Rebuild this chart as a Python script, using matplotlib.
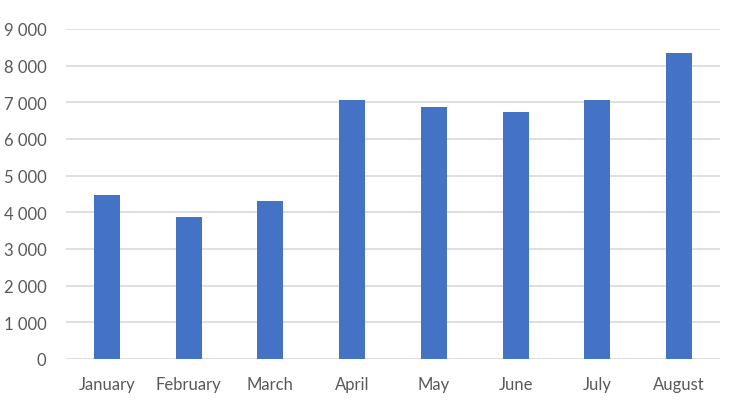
import matplotlib
matplotlib.use("Agg")
import matplotlib.pyplot as plt
from matplotlib.ticker import FuncFormatter, MultipleLocator

months = ["January", "February", "March", "April", "May", "June", "July", "August"]
values = [4470, 3870, 4310, 7060, 6870, 6740, 7060, 8350]

plt.rcParams['font.family'] = ['Lato', 'DejaVu Sans']

fig = plt.figure(figsize=(7.40, 4.02), dpi=100)
ax = fig.add_axes([66/740, 1 - 360/402, (720-66)/740, (360-30)/402])

x = range(len(months))
ax.bar(x, values, width=0.32, color="#4472C4", zorder=3)
ax.set_xlim(-0.5, len(months) - 0.5)
ax.set_ylim(0, 9000)
ax.yaxis.set_major_locator(MultipleLocator(1000))
ax.yaxis.set_major_formatter(FuncFormatter(lambda v, p: f"{int(v):,}".replace(",", " ")))
ax.set_xticks(list(x))
ax.set_xticklabels(months)
ax.grid(axis="y", color="#D9D9D9", linewidth=1.2, zorder=0)
for s in ax.spines.values():
    s.set_visible(False)
ax.tick_params(axis="both", length=0, labelsize=12, colors="#595959")
ax.tick_params(axis="x", pad=12)
ax.tick_params(axis="y", pad=14)

fig.savefig("out.png", dpi=100)
